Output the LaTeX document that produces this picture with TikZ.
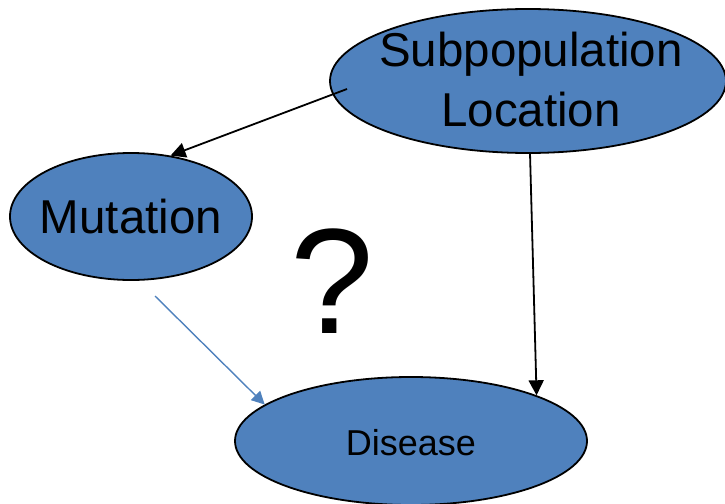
\documentclass[tikz,border=0pt]{standalone}
\usepackage{fontspec}
\setmainfont{Liberation Sans}
\usetikzlibrary{shapes.geometric,arrows.meta}
\definecolor{OfficeBlue}{HTML}{4F81BD}
\tikzset{
    blob/.style={ellipse,draw=black,line width=1.8pt,fill=OfficeBlue,inner sep=0pt},
    link/.style={line width=1.8pt,-{Triangle[length=15pt,width=15pt]}},
    bluelink/.style={line width=1.4pt,color=OfficeBlue,-{Triangle[length=13pt,width=13pt]}}
}
\begin{document}
\begin{tikzpicture}[x=1pt,y=-1pt]
    \useasboundingbox (0,0) rectangle (725,503);

    % Ellipses first, texts on top of them
    \node[blob,minimum width=396pt,minimum height=144pt] (Subpopulation) at (528,81) {};
    \node[blob,minimum width=242pt,minimum height=127pt] (Mutation) at (131,216.5) {};
    \node[blob,minimum width=352pt,minimum height=128pt] (Disease) at (411,441) {};

    \node[font=\fontsize{47.5}{60}\selectfont,align=center] (SubpopulationText) at (531,80) {Subpopulation\\Location};
    \node[font=\fontsize{47.5}{55}\selectfont,anchor=base] (MutationText) at (131,233) {Mutation};
    \node[font=\fontsize{36}{43}\selectfont,anchor=base] (DiseaseText) at (411,455) {Disease};
    \node[font=\fontsize{150}{180}\selectfont,anchor=base] (Question) at (332,333) {?};

    % Free ends of the arrows
    \coordinate (SubpopulationOut) at (347,89);
    \coordinate (SubpopulationDown) at (530,153);
    \coordinate (MutationOut) at (155,296);

    \foreach \from/\to in {SubpopulationOut/Mutation.57,SubpopulationDown/Disease.20}
    {
        \draw[link] (\from) -- (\to);
    }
    \draw[bluelink] (MutationOut) -- (Disease.166);
\end{tikzpicture}
\end{document}
